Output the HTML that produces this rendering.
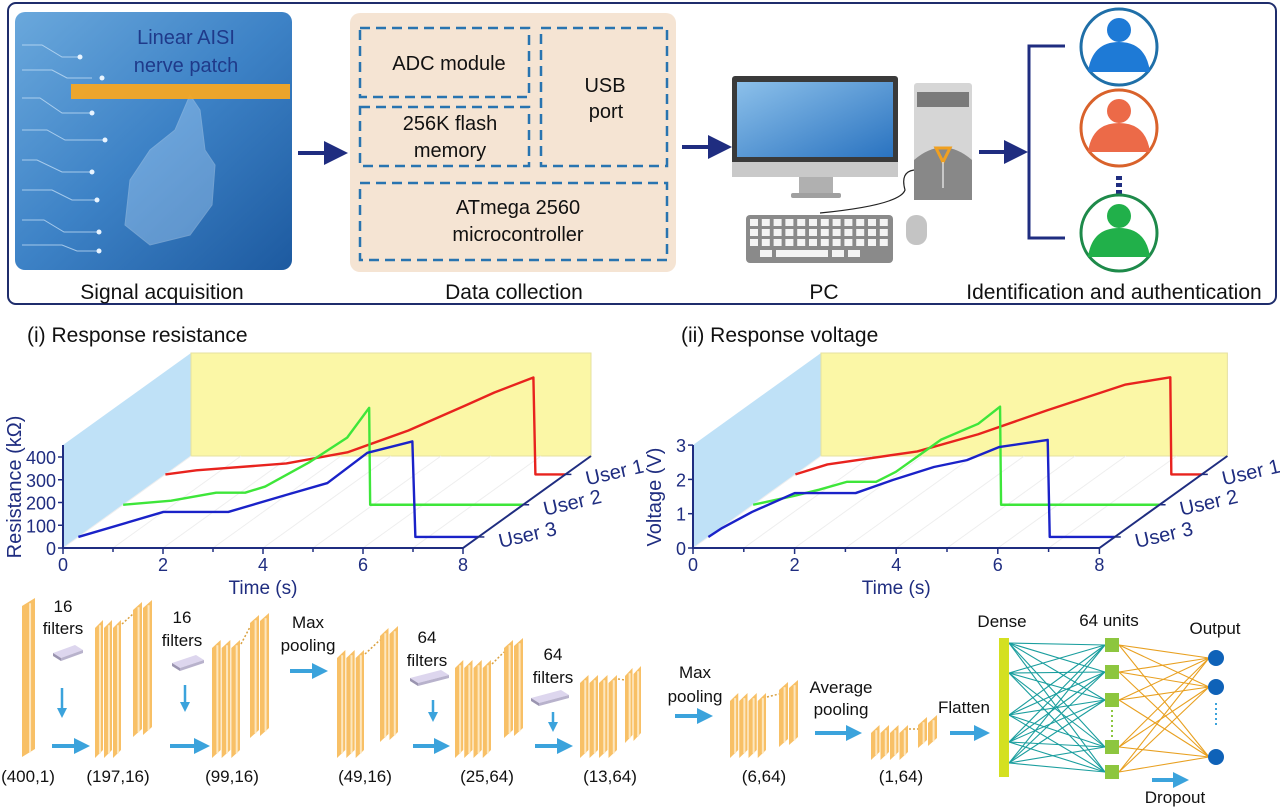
<!DOCTYPE html>
<html><head><meta charset="utf-8"><style>
html,body{margin:0;padding:0;background:#fff;}
svg{display:block;font-family:"Liberation Sans",Arial,sans-serif;}
</style></head><body>
<svg id="fig" width="1280" height="807" viewBox="0 0 1280 807" xmlns="http://www.w3.org/2000/svg">
<defs>
<linearGradient id="handbg" x1="0" y1="0" x2="1" y2="1"><stop offset="0" stop-color="#6aa8dc"/><stop offset="0.5" stop-color="#3d82c6"/><stop offset="1" stop-color="#1d5aa0"/></linearGradient>
<linearGradient id="scr" x1="0" y1="0" x2="1" y2="1"><stop offset="0" stop-color="#8cc0ea"/><stop offset="1" stop-color="#2a73c0"/></linearGradient>
<marker id="ah" markerWidth="6" markerHeight="6" refX="3" refY="3" orient="auto" markerUnits="strokeWidth"><path d="M0,0 L6,3 L0,6 z" fill="#1f2d80"/></marker>
<marker id="ahb" markerWidth="4" markerHeight="4" refX="2" refY="2" orient="auto" markerUnits="strokeWidth"><path d="M0,0 L4,2 L0,4 z" fill="#3ba3dc"/></marker>
</defs>

<g>
<rect x="8" y="3" width="1268" height="301" rx="8" fill="none" stroke="#1f2d6c" stroke-width="2"/>

<g>
<rect x="15" y="12" width="277" height="258" rx="10" fill="url(#handbg)"/>
<g stroke="#cfe6fa" stroke-width="1" fill="none" opacity="0.7">
<path d="M22,45 h20 l20,12 h18"/><path d="M22,70 h30 l15,8 h25"/><path d="M22,98 h18 l22,15 h30"/><path d="M22,130 h25 l18,10 h40"/><path d="M22,160 h15 l25,12 h30"/><path d="M22,190 h30 l20,10 h25"/><path d="M22,220 h22 l20,12 h35"/><path d="M22,245 h40 l15,6 h22"/>
</g>
<g fill="#e8f4ff"><circle cx="80" cy="57" r="2.5"/><circle cx="102" cy="78" r="2.5"/><circle cx="92" cy="113" r="2.5"/><circle cx="105" cy="140" r="2.5"/><circle cx="92" cy="172" r="2.5"/><circle cx="97" cy="200" r="2.5"/><circle cx="99" cy="232" r="2.5"/><circle cx="99" cy="251" r="2.5"/></g>
<path d="M190,95 L200,110 L205,150 L215,165 L212,205 L190,235 L150,245 L125,225 L130,180 L150,150 L175,130 Z" fill="#bfe0ff" opacity="0.35" stroke="#eaf6ff" stroke-width="1"/>
<rect x="71" y="84" width="219" height="15" fill="#f5a623" opacity="0.95"/>
<text x="186" y="44" font-size="20" fill="#1f3a8a" text-anchor="middle">Linear AISI</text>
<text x="186" y="72" font-size="20" fill="#1f3a8a" text-anchor="middle">nerve patch</text>
</g>
<text x="162" y="299" font-size="21" fill="#111" text-anchor="middle">Signal acquisition</text>

<line x1="298" y1="153" x2="336" y2="153" stroke="#1f2d80" stroke-width="4" marker-end="url(#ah)"/>

<g>
<rect x="350" y="13" width="326" height="259" rx="10" fill="#f5e4d3"/>
<g fill="none" stroke="#2874b0" stroke-width="2.5" stroke-dasharray="10 6">
<rect x="360" y="28" width="169" height="69"/>
<rect x="360" y="107" width="169" height="59"/>
<rect x="541" y="28" width="126" height="138"/>
<rect x="360" y="183" width="307" height="77"/>
</g>
<g font-size="20" fill="#111" text-anchor="middle">
<text x="449" y="70">ADC module</text>
<text x="450" y="130">256K flash</text>
<text x="450" y="157">memory</text>
<text x="605" y="92">USB</text>
<text x="606" y="118">port</text>
<text x="518" y="214">ATmega 2560</text>
<text x="518" y="241">microcontroller</text>
</g>
</g>
<text x="514" y="299" font-size="21" fill="#111" text-anchor="middle">Data collection</text>

<line x1="682" y1="147" x2="720" y2="147" stroke="#1f2d80" stroke-width="4" marker-end="url(#ah)"/>

<g>
<rect x="732" y="76" width="166" height="101" rx="3" fill="#3a3a3a"/>
<rect x="737" y="82" width="156" height="75" fill="url(#scr)"/>
<rect x="732" y="162" width="166" height="15" fill="#c9c9c9"/>
<rect x="799" y="177" width="34" height="17" fill="#b0b0b0"/>
<rect x="791" y="193" width="50" height="5" rx="2" fill="#a0a0a0"/>
<rect x="914" y="83" width="58" height="117" rx="3" fill="#d6d6d6"/>
<rect x="917" y="92" width="52" height="15" fill="#7a7a7a"/>
<path d="M914,200 L914,160 Q943,135 972,160 L972,200 Z" fill="#888"/>
<path d="M936,148 L950,148 L943,162 Z" fill="none" stroke="#f0a020" stroke-width="3"/>
<line x1="943" y1="162" x2="943" y2="188" stroke="#ddd" stroke-width="1.5"/>
<path d="M914,170 Q900,172 905,190 Q900,205 820,213" fill="none" stroke="#222" stroke-width="1.2"/>
<rect x="746" y="215" width="147" height="48" rx="4" fill="#8a8a8a"/>
<g fill="#f4f4f4" id="keys"></g>
<rect x="906" y="215" width="21" height="30" rx="10" fill="#c4c4c4"/>
</g>
<text x="824" y="299" font-size="21" fill="#111" text-anchor="middle">PC</text>

<line x1="979" y1="152" x2="1016" y2="152" stroke="#1f2d80" stroke-width="4" marker-end="url(#ah)"/>

<g>
<path d="M1065,46 H1029 V238 H1065" fill="none" stroke="#1f2d80" stroke-width="3"/>
<g>
<circle cx="1119" cy="47" r="38" fill="#fff" stroke="#1f6fa8" stroke-width="3"/>
<circle cx="1119" cy="30" r="12" fill="#1e7ad6"/><path d="M1088,72 Q1092,42 1119,42 Q1146,42 1150,72 Z" fill="#1e7ad6"/>
</g>
<g>
<circle cx="1119" cy="128" r="38" fill="#fff" stroke="#d9622b" stroke-width="3"/>
<circle cx="1119" cy="111" r="12" fill="#ec6a48"/><path d="M1088,152 Q1092,123 1119,123 Q1146,123 1150,152 Z" fill="#ec6a48"/>
</g>
<rect x="1116" y="176" width="6" height="4" fill="#1f2d80"/><rect x="1116" y="183" width="6" height="4" fill="#1f2d80"/><rect x="1116" y="190" width="6" height="4" fill="#1f2d80"/>
<g>
<circle cx="1119" cy="233" r="38" fill="#fff" stroke="#1e8a4a" stroke-width="3"/>
<circle cx="1119" cy="216" r="12" fill="#21b04a"/><path d="M1088,257 Q1092,228 1119,228 Q1146,228 1150,257 Z" fill="#21b04a"/>
</g>
</g>
<text x="1114" y="299" font-size="21" fill="#111" text-anchor="middle">Identification and authentication</text>
</g>

<text x="27" y="342" font-size="21" fill="#111">(i)  Response resistance</text>
<text x="681" y="342" font-size="21" fill="#111">(ii)  Response voltage</text>
<g id="chart1"></g>
<g id="chart2"></g>

<g id="cnn"></g>
</svg>

<script>
const timeTicks = [0, 2, 4, 6, 8];
const resTicks = [0, 100, 200, 300, 400];
const voltTicks = [0, 1, 2, 3];
const userNames = ["User 1", "User 2", "User 3"];
const userDepth = [0.8, 0.47, 0.12];

const resUser1T = [0, 0.62, 2.42, 3.64, 4.86, 6.0, 6.58, 7.36, 7.4, 8];
const resUser1V = [0, 18, 48, 97, 193, 303, 360, 426, 0, 0];
const resUser2T = [0, 0.96, 1.86, 2.44, 2.84, 3.74, 4.48, 4.92, 4.94, 8];
const resUser2V = [0, 18, 53, 53, 80, 189, 295, 426, 0, 0];
const resUser3T = [0, 1.7, 3.0, 4.16, 4.98, 5.78, 6.68, 6.74, 8];
const resUser3V = [0, 110, 110, 185, 237, 370, 420, 0, 0];

const voltUser1T = [0, 0.63, 2.4, 3.6, 4.96, 6.5, 7.38, 7.4, 8];
const voltUser1V = [0, 0.29, 0.67, 1.17, 1.87, 2.62, 2.83, 0, 0];
const voltUser2T = [0, 0.81, 1.3, 1.85, 2.42, 2.81, 3.7, 4.43, 4.86, 4.88, 8];
const voltUser2V = [0, 0.26, 0.44, 0.67, 0.67, 0.96, 1.9, 2.36, 2.86, 0, 0];
const voltUser3T = [0, 0.27, 0.86, 1.7, 2.9, 3.63, 4.44, 5.09, 5.72, 6.68, 6.72, 8];
const voltUser3V = [0, 0.26, 0.73, 1.28, 1.28, 1.66, 2.04, 2.24, 2.62, 2.83, 0, 0];

const NS = "http://www.w3.org/2000/svg";
function mk(parent, tag, attrs, text) {
  const e = document.createElementNS(NS, tag);
  for (const k in attrs) e.setAttribute(k, attrs[k]);
  if (text !== undefined) e.textContent = text;
  parent.appendChild(e);
  return e;
}

function drawChart(g, cfg, series, yTicks, yTitle, prefix) {
  const DX = 128, DY = -92, oy = 548;
  const sx = t => cfg.ox + t * cfg.pxs;
  const sy = v => oy - v * cfg.pxv;
  const P = (t, v, d) => [sx(t) + DX * d, sy(v) + DY * d];
  const x8 = sx(8), yTopAxis = 445;
  const wall = mk(g, "polygon", {points: `${cfg.ox},${yTopAxis} ${cfg.ox+DX},${yTopAxis+DY} ${cfg.ox+DX},${oy+DY} ${cfg.ox},${oy}`, fill: "#bfe1f7"});
  
  
  const back = mk(g, "rect", {x: cfg.ox+DX, y: yTopAxis+DY, width: x8-cfg.ox, height: oy-yTopAxis, fill: "#fbf7a6", stroke: "#e6e2a0", "stroke-width": 1});
  
  
  for (let t = 0; t <= 8; t++) {
    const l = mk(g, "line", {x1: sx(t), y1: oy, x2: sx(t)+DX, y2: oy+DY, stroke: "#eeeeee", "stroke-width": 1});
    
    
  }
  const colors = ["#e8231e", "#3ee63a", "#1a22c8"];
  series.forEach((s, i) => {
    const d = userDepth[i];
    const pts = s.t.map((t, j) => P(t, s.v[j], d).join(",")).join(" ");
    const pl = mk(g, "polyline", {points: pts, fill: "none", stroke: colors[i], "stroke-width": 2.4, "stroke-linejoin": "round"});
    
    
  });
  const ax = mk(g, "path", {d: `M${cfg.ox},${yTopAxis} V${oy} H${x8} L${x8+DX},${oy+DY}`, fill: "none", stroke: "#1f2d80", "stroke-width": 2});
  
  
  for (let t = 0; t <= 8; t++) {
    const tk = mk(g, "line", {x1: sx(t), y1: oy, x2: sx(t), y2: oy + (t % 2 ? 4 : 6), stroke: "#1f2d80", "stroke-width": 1.5});
    
    
  }
  timeTicks.forEach(t => {
    const tx = mk(g, "text", {x: sx(t), y: oy + 23, "font-size": 18, fill: "#1f2d80", "text-anchor": "middle"}, String(t));
    
    
  });
  yTicks.forEach(v => {
    const tk = mk(g, "line", {x1: cfg.ox - 5, y1: sy(v), x2: cfg.ox, y2: sy(v), stroke: "#1f2d80", "stroke-width": 1.5});
    
    
    const tx = mk(g, "text", {x: cfg.ox - 7, y: sy(v) + 7, "font-size": 18, fill: "#1f2d80", "text-anchor": "end"}, String(v));
    
    
  });
  userDepth.forEach((d, i) => {
    const bx = x8 + DX * d, by = oy + DY * d;
    const tk = mk(g, "line", {x1: bx, y1: by, x2: bx + 6, y2: by, stroke: "#1f2d80", "stroke-width": 1.5});
    
    
    const tx = mk(g, "text", {x: bx + 22, y: by + 11, "font-size": 20, fill: "#1f2d80", transform: `rotate(-13 ${bx+22} ${by+11})`}, userNames[i]);
    
    
  });
  const xt = mk(g, "text", {x: sx(4), y: 594, "font-size": 19, fill: "#1f2d80", "text-anchor": "middle"}, "Time (s)");
  
  
  const yt = mk(g, "text", {x: cfg.ytx, y: cfg.yty, "font-size": 20, fill: "#1f2d80", "text-anchor": "middle", transform: `rotate(-90 ${cfg.ytx} ${cfg.yty})`}, yTitle);
  
  
}

drawChart(document.getElementById("chart1"), {ox: 63, pxs: 50, pxv: 0.2275, ytx: 21, yty: 487},
  [{t: resUser1T, v: resUser1V}, {t: resUser2T, v: resUser2V}, {t: resUser3T, v: resUser3V}],
  resTicks, "Resistance (kΩ)", "res");
drawChart(document.getElementById("chart2"), {ox: 693, pxs: 50.8, pxv: 34.3, ytx: 661, yty: 497},
  [{t: voltUser1T, v: voltUser1V}, {t: voltUser2T, v: voltUser2V}, {t: voltUser3T, v: voltUser3V}],
  voltTicks, "Voltage (V)", "volt");

const keys = document.getElementById("keys");
for (let r = 0; r < 3; r++) for (let c = 0; c < 12; c++) {
  mk(keys, "rect", {x: 750 + c * 11.8, y: 219 + r * 10, width: 8, height: 7});
}
mk(keys, "rect", {x: 760, y: 250, width: 12, height: 7});
mk(keys, "rect", {x: 776, y: 250, width: 52, height: 7});
mk(keys, "rect", {x: 832, y: 250, width: 12, height: 7});
mk(keys, "rect", {x: 848, y: 250, width: 12, height: 7});

const cnn = document.getElementById("cnn");
function slab(x, yTop, yBot, w) {
  const sk = 8;
  mk(cnn, "polygon", {points: `${x},${yTop+sk} ${x+w},${yTop} ${x+w},${yBot-sk} ${x},${yBot}`, fill: "#f8c066"});
  mk(cnn, "line", {x1: x + w * 0.62, y1: yTop + sk * 0.4 + 2, x2: x + w * 0.62, y2: yBot - sk * 0.6, stroke: "#fde7bf", "stroke-width": 2});
}
function stack(name, x0, x1, yTop, yBot, n, bx0, bx1, bTop, bBot) {
  const w = (x1 - x0) / n;
  for (let i = 0; i < n; i++) slab(x0 + i * w, yTop, yBot, w - 1);
  if (bx0 !== undefined) {
    slab(bx0, bTop, bBot, (bx1 - bx0) / 2 - 1);
    slab(bx0 + (bx1 - bx0) / 2, bTop - 2, bBot - 2, (bx1 - bx0) / 2 - 1);
    mk(cnn, "line", {x1: x1, y1: yTop + 4, x2: bx0, y2: bTop + 12, stroke: "#d9a040", "stroke-width": 1.5, "stroke-dasharray": "2 2"});
  }
}
slab(22, 598, 757, 13);
stack("s197", 95, 122, 620, 758, 3, 133, 153, 602, 737);
stack("s99", 212, 241, 640, 758, 3, 250, 270, 615, 738);
stack("s49", 337, 365, 650, 758, 3, 380, 399, 628, 742);
stack("s25", 455, 492, 660, 758, 4, 504, 524, 640, 738);
stack("s13", 580, 618, 675, 758, 4, 625, 642, 668, 743);
stack("s6", 730, 767, 693, 758, 4, 779, 799, 682, 747);
stack("s1", 871, 909, 725, 760, 4, 918, 938, 717, 748);

const shapeLabels = ["(400,1)", "(197,16)", "(99,16)", "(49,16)", "(25,64)", "(13,64)", "(6,64)", "(1,64)"];
const shapeX = [28, 118, 232, 365, 487, 610, 764, 901];
shapeLabels.forEach((s, i) => {
  const t = mk(cnn, "text", {x: shapeX[i], y: 782, "font-size": 17, fill: "#111", "text-anchor": "middle"}, s);
  
  
});
function txt(x, y, s, name) {
  const t = mk(cnn, "text", {x: x, y: y, "font-size": 17, fill: "#111", "text-anchor": "middle"}, s);
  
  
}
function arrowR(x1, x2, y) { mk(cnn, "line", {x1: x1, y1: y, x2: x2 - 6, y2: y, stroke: "#3ba3dc", "stroke-width": 4, "marker-end": "url(#ahb)"}); }
function arrowD(x, y1, y2) { mk(cnn, "line", {x1: x, y1: y1, x2: x, y2: y2 - 5, stroke: "#3ba3dc", "stroke-width": 2.5, "marker-end": "url(#ahb)"}); }
function chip(x, y, w) {
  mk(cnn, "polygon", {points: `${x},${y+8} ${x+w-8},${y} ${x+w},${y+5} ${x+8},${y+13}`, fill: "#ddd6ee"});
  mk(cnn, "polygon", {points: `${x},${y+8} ${x+8},${y+13} ${x+8},${y+16} ${x},${y+11}`, fill: "#9a94b0"});
  mk(cnn, "polygon", {points: `${x+8},${y+13} ${x+w},${y+5} ${x+w},${y+8} ${x+8},${y+16}`, fill: "#b8b2cc"});
}
txt(63, 612, "16", "filters-label-1"); txt(63, 634, "filters", "filters-label-1b");
chip(53, 645, 30); arrowD(62, 688, 718); arrowR(52, 88, 746);
txt(182, 623, "16", "filters-label-2"); txt(182, 646, "filters", "filters-label-2b");
chip(172, 655, 32); arrowD(185, 685, 712); arrowR(170, 208, 746);
txt(308, 628, "Max", "max-pooling-label-1"); txt(308, 651, "pooling", "max-pooling-label-1b");
arrowR(290, 326, 671);
txt(427, 643, "64", "filters-label-3"); txt(427, 666, "filters", "filters-label-3b");
chip(410, 670, 39); arrowD(433, 700, 722); arrowR(413, 448, 746);
txt(553, 660, "64", "filters-label-4"); txt(553, 683, "filters", "filters-label-4b");
chip(531, 690, 38); arrowD(553, 712, 732); arrowR(535, 571, 746);
txt(695, 678, "Max", "max-pooling-label-2"); txt(695, 702, "pooling", "max-pooling-label-2b");
arrowR(675, 711, 716);
txt(841, 693, "Average", "avg-pooling-label"); txt(841, 715, "pooling", "avg-pooling-label-b");
arrowR(815, 860, 733);
txt(964, 713, "Flatten", "flatten-label");
arrowR(950, 988, 733);

const denseY = [643, 673, 715, 742, 763];
const unitY = [645, 672, 700, 747, 772];
const outY = [658, 687, 757];
denseY.forEach(a => unitY.forEach(b => mk(cnn, "line", {x1: 1009, y1: a, x2: 1105, y2: b, stroke: "#1a9e9e", "stroke-width": 1.1})));
unitY.forEach(a => outY.forEach(b => mk(cnn, "line", {x1: 1119, y1: a, x2: 1209, y2: b, stroke: "#e8a020", "stroke-width": 1.1})));
const dense = mk(cnn, "rect", {x: 999, y: 638, width: 10, height: 139, fill: "#d4e021"});


unitY.forEach(y => {
  const r = mk(cnn, "rect", {x: 1105, y: y - 7, width: 14, height: 14, fill: "#8dc63f"});
  
  
});
mk(cnn, "line", {x1: 1112, y1: 710, x2: 1112, y2: 738, stroke: "#8dc63f", "stroke-width": 2, "stroke-dasharray": "2 3"});
outY.forEach(y => {
  const c = mk(cnn, "circle", {cx: 1216, cy: y, r: 8, fill: "#0f62b8"});
  
  
});
mk(cnn, "line", {x1: 1216, y1: 703, x2: 1216, y2: 727, stroke: "#3ba3dc", "stroke-width": 2, "stroke-dasharray": "2 3"});
txt(1002, 627, "Dense", "dense-label");
txt(1109, 626, "64 units", "units-label");
txt(1215, 634, "Output", "output-label");
arrowR(1152, 1187, 780);
txt(1175, 803, "Dropout", "dropout-label");
</script>
</body></html>
